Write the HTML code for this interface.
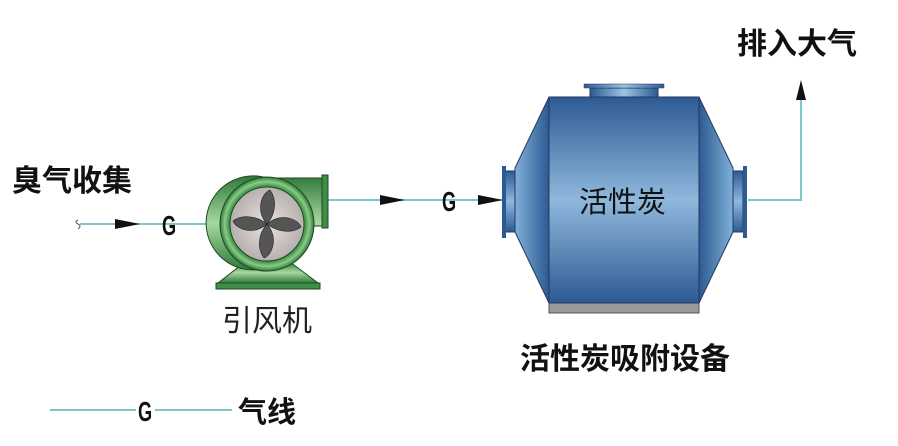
<!DOCTYPE html>
<html><head><meta charset="utf-8"><style>
body{margin:0;background:#fff;width:898px;height:441px;overflow:hidden}
text{font-family:"Liberation Sans","Noto Sans CJK SC",sans-serif}
</style></head><body>
<svg width="898" height="441" viewBox="0 0 898 441" xmlns="http://www.w3.org/2000/svg">
<defs>
<linearGradient id="bv" x1="0" y1="0" x2="0" y2="1">
<stop offset="0" stop-color="#2d5a92"/><stop offset="0.5" stop-color="#8fb8dc"/><stop offset="1" stop-color="#2d5a92"/></linearGradient>
<linearGradient id="bl" x1="0" y1="0" x2="1" y2="0">
<stop offset="0" stop-color="#7fb0d8"/><stop offset="1" stop-color="#2d5a92"/></linearGradient>
<linearGradient id="br" x1="0" y1="0" x2="1" y2="0">
<stop offset="0" stop-color="#2d5a92"/><stop offset="1" stop-color="#7fb0d8"/></linearGradient>
<linearGradient id="bh" x1="0" y1="0" x2="1" y2="0">
<stop offset="0" stop-color="#2d5a92"/><stop offset="0.5" stop-color="#9cc4e4"/><stop offset="1" stop-color="#2d5a92"/></linearGradient>
<linearGradient id="gv" x1="0" y1="0" x2="0" y2="1">
<stop offset="0" stop-color="#2f7a3a"/><stop offset="0.5" stop-color="#a8d8a0"/><stop offset="1" stop-color="#2f7a3a"/></linearGradient>
<radialGradient id="gr"><stop offset="0.8" stop-color="#3e8e48"/><stop offset="0.9" stop-color="#8acb86"/><stop offset="1" stop-color="#2f7a3a"/></radialGradient>
<radialGradient id="disc"><stop offset="0" stop-color="#e8e2e0"/><stop offset="1" stop-color="#b8b0ae"/></radialGradient>
</defs>
<g stroke="#7cc8c8" stroke-width="2" fill="none">
<line x1="80" y1="224" x2="220" y2="224"/>
<line x1="327" y1="200" x2="503" y2="200"/>
<polyline points="748,200 801,200 801,98"/>
<line x1="50" y1="410" x2="136" y2="410"/>
<line x1="155" y1="410" x2="232" y2="410"/>
</g>
<path d="M78 220 q-4 2 0 4 q4 2 0 5" stroke="#555" fill="none" stroke-width="1"/>
<polygon points="115,219 140,224 115,229" fill="#111"/>
<polygon points="380,195 405,200 380,205" fill="#111"/>
<polygon points="478,195 503,200 478,205" fill="#111"/>
<polygon points="796,100 801,80 806,100" fill="#111"/>
<g font-weight="bold" fill="#111">
<text transform="translate(162,235) scale(0.65,1)" font-size="28">G</text>
<text transform="translate(442,211) scale(0.65,1)" font-size="28">G</text>
<text transform="translate(138,421) scale(0.65,1)" font-size="28">G</text>
<text x="12" y="191" font-size="30">臭气收集</text>
<text x="737" y="54" font-size="30">排入大气</text>
<text x="520" y="369" font-size="30">活性炭吸附设备</text>
<text x="238" y="422" font-size="29">气线</text>
</g>
<text x="222" y="331" font-size="30" fill="#222">引风机</text>
<polygon points="245,262 290,262 318,283 218,283" fill="url(#gv)" stroke="#1e4a22"/>
<rect x="216" y="283" width="104" height="6" fill="#3e8e48" stroke="#1e4a22"/>
<path d="M267 178 L322 178 L322 226 L300 226 A47 47 0 1 1 267 178Z" fill="url(#gv)" stroke="#1e4a22"/>
<circle cx="267" cy="224" r="47" fill="url(#gr)" stroke="#1e4a22"/>
<rect x="322" y="175" width="6" height="53" fill="#3e8e48" stroke="#1e4a22"/>
<circle cx="267" cy="224" r="37" fill="url(#disc)" stroke="#1e4a22"/>
<g fill="#555" stroke="#222" stroke-width="0.6">
<path d="M267 224 C255 210 262 193 270 190 C277 199 276 214 267 224Z"/>
<path d="M267 224 C281 212 298 219 301 227 C292 234 277 232 267 224Z"/>
<path d="M267 224 C279 238 272 255 264 258 C257 249 258 234 267 224Z"/>
<path d="M267 224 C253 236 236 229 233 221 C242 214 257 216 267 224Z"/>
</g>
<rect x="549" y="303" width="150" height="10" fill="#9a9a9a" stroke="#555"/>
<polygon points="549,97 515,168 515,232 549,303" fill="url(#bl)" stroke="#1e3a60"/>
<polygon points="699,97 733,168 733,232 699,303" fill="url(#br)" stroke="#1e3a60"/>
<rect x="549" y="97" width="150" height="206" fill="url(#bv)" stroke="#1e3a60"/>
<rect x="505" y="171" width="10" height="61" fill="url(#bv)" stroke="#1e3a60"/>
<rect x="502" y="166" width="4" height="72" fill="#2d5a92"/>
<rect x="733" y="171" width="10" height="61" fill="url(#bv)" stroke="#1e3a60"/>
<rect x="743" y="166" width="4" height="72" fill="#2d5a92"/>
<rect x="590" y="88" width="68" height="9" fill="url(#bh)" stroke="#1e3a60"/>
<rect x="584" y="84" width="80" height="4" fill="url(#bh)" stroke="#1e3a60" stroke-width="0.5"/>
<text x="579" y="212" font-size="29" fill="#111">活性炭</text>
</svg>
</body></html>
